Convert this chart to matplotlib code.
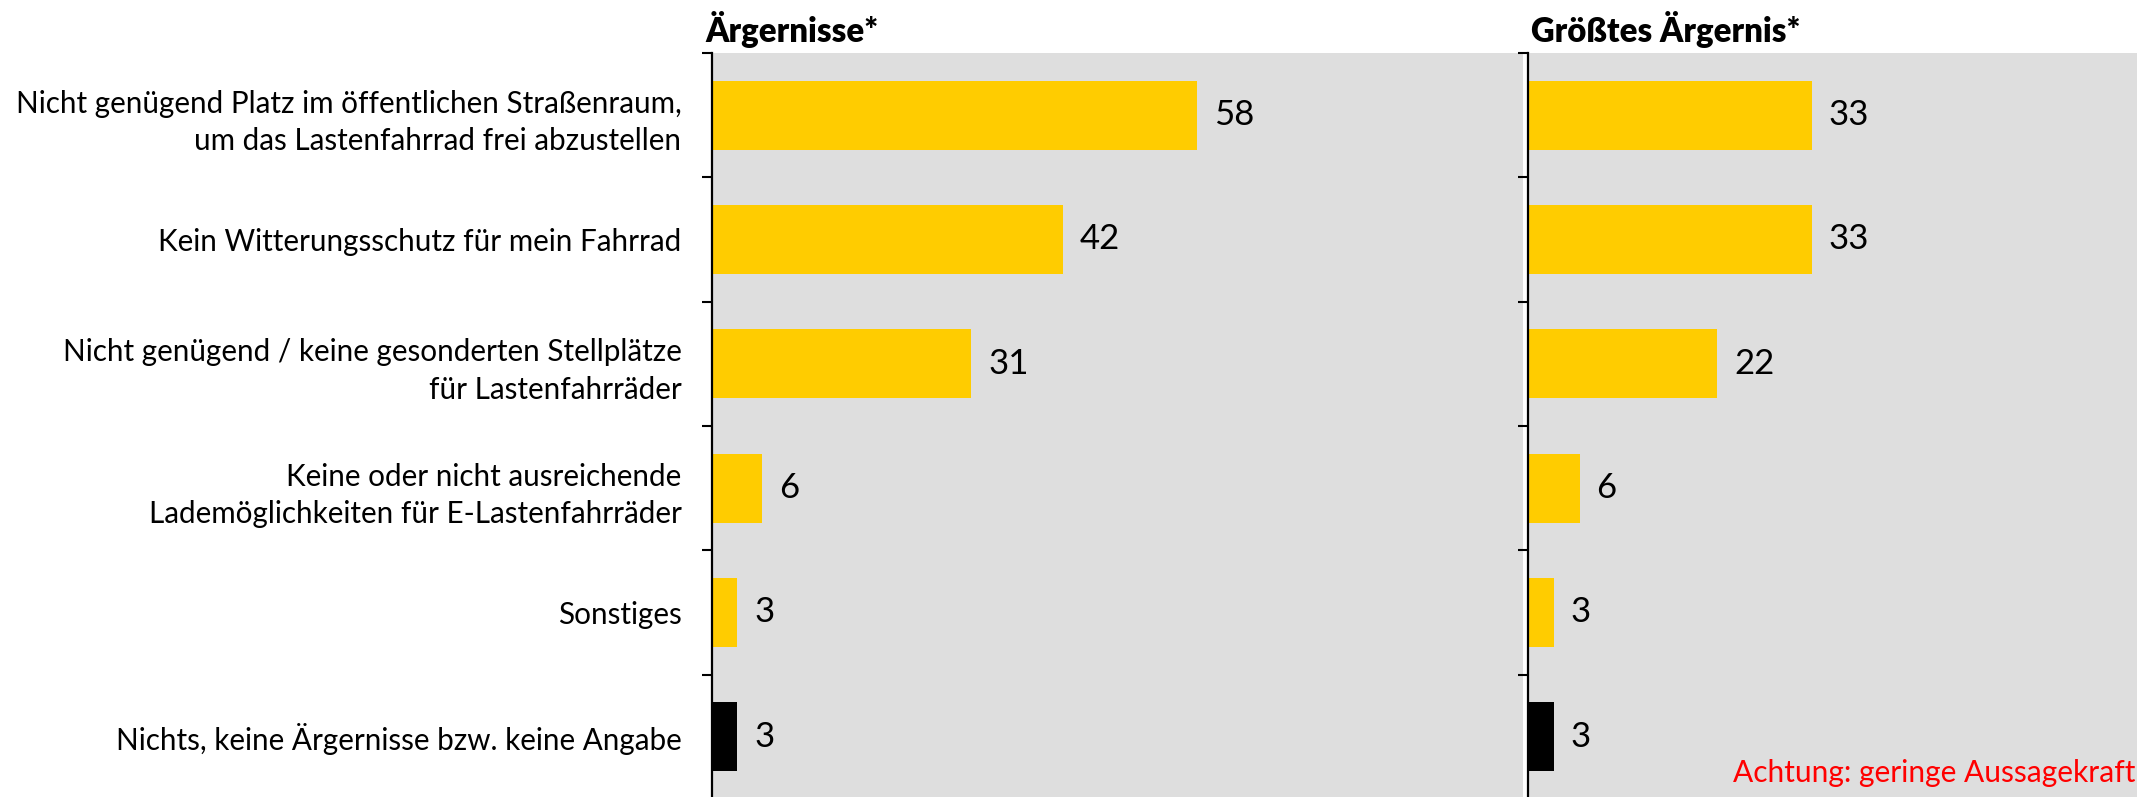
import matplotlib
matplotlib.use("Agg")
import matplotlib.pyplot as plt
import numpy as np

# survey answers, top to bottom
categories = [
    "Nicht genügend Platz im öffentlichen Straßenraum,\num das Lastenfahrrad frei abzustellen",
    "Kein Witterungsschutz für mein Fahrrad",
    "Nicht genügend / keine gesonderten Stellplätze\nfür Lastenfahrräder",
    "Keine oder nicht ausreichende\nLademöglichkeiten für E-Lastenfahrräder",
    "Sonstiges",
    "Nichts, keine Ärgernisse bzw. keine Angabe",
]
aergernisse = [58, 42, 31, 6, 3, 3]
groesstes = [33, 33, 22, 6, 3, 3]

YELLOW = "#FFCC00"
GREY = "#DEDEDE"
bar_colors = [YELLOW] * 5 + ["#000000"]

plt.rcParams["font.family"] = ["Lato", "DejaVu Sans"]

W, H = 2146, 797
fig = plt.figure(figsize=(W / 100, H / 100), dpi=100)

def px_axes(x0, x1, y_top, y_bot):
    return fig.add_axes([x0 / W, 1 - y_bot / H, (x1 - x0) / W, (y_bot - y_top) / H])

ax1 = px_axes(712, 1523, 53, 799)
ax2 = px_axes(1528, 2137, 53, 799)

centers = np.arange(len(categories)) + 0.5

def draw_panel(ax, values, xmax):
    ax.set_facecolor(GREY)
    ax.barh(centers, values, height=0.555, color=bar_colors)
    for y, v in zip(centers, values):
        ax.annotate(f"{v}", (v, y), xytext=(17, 0), textcoords="offset pixels",
                    va="center", ha="left", fontsize=25, color="black")
    ax.set_xlim(0, xmax)
    ax.set_ylim(len(categories), 0)
    for s in ("top", "right", "bottom"):
        ax.spines[s].set_visible(False)
    ax.spines["left"].set_linewidth(1.6)
    ax.set_xticks([])
    ax.set_yticks(np.arange(len(categories) + 1), minor=True)
    ax.tick_params(axis="y", which="minor", length=7.5, width=1.5, direction="out")
    ax.set_yticks(centers)
    ax.set_yticklabels([])
    ax.tick_params(axis="y", which="major", length=0)

draw_panel(ax1, aergernisse, 97)
draw_panel(ax2, groesstes, 70.8)

ax1.set_yticklabels(categories, fontsize=21.3, linespacing=1.4)
ax1.tick_params(axis="y", which="major", pad=22)

fig.text(705 / W, 1 - 42 / H, "Ärgernisse*", fontsize=23.7, fontweight="heavy",
         va="baseline", ha="left")
fig.text(1531 / W, 1 - 42 / H, "Größtes Ärgernis*", fontsize=23.7, fontweight="heavy",
         va="baseline", ha="left")
fig.text(2135 / W, 1 - 782 / H, "Achtung: geringe Aussagekraft", fontsize=21.5,
         color="#FF0000", va="baseline", ha="right")

fig.savefig("out.png", dpi=100, facecolor="white")
